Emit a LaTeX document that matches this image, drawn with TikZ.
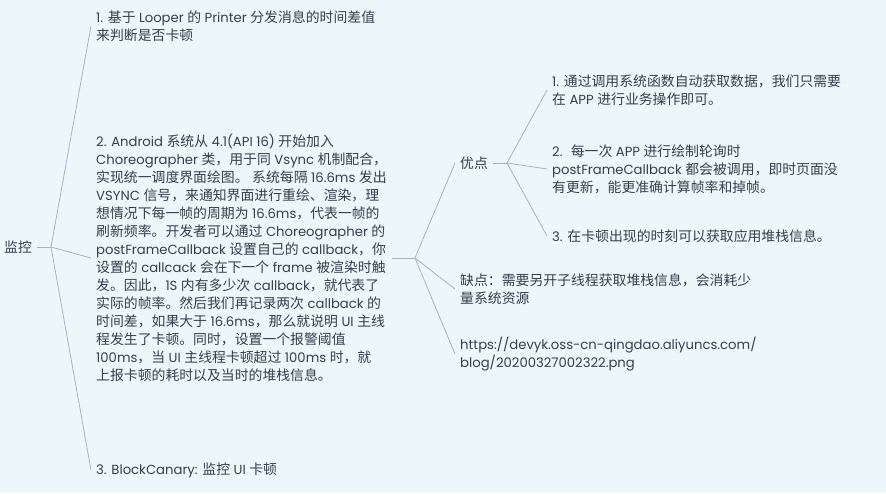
\documentclass[tikz,border=0pt]{standalone}
\usepackage{fontspec}
\setmainfont{Poppins}
\newfontfamily\latinfont{Poppins}
\newfontfamily\cjkfont[Scale=1.05]{Noto Sans CJK SC}
\usepackage{tikz}
\usetikzlibrary{positioning}

% switch to the CJK font for Chinese characters and punctuation
\XeTeXinterchartokenstate=1
\newXeTeXintercharclass\cjkclass
\newcount\cjkcnt
\newcommand{\setcjkrange}[2]{%
  \cjkcnt=#1
  \loop\ifnum\cjkcnt<#2
    \XeTeXcharclass\cjkcnt=\cjkclass
    \advance\cjkcnt by 1
  \repeat}
\setcjkrange{"3000}{"3040}
\setcjkrange{"4E00}{"A000}
\setcjkrange{"FF00}{"FFF0}
\XeTeXinterchartoks 0 \cjkclass = {\cjkfont}
\XeTeXinterchartoks 4095 \cjkclass = {\cjkfont}
\XeTeXinterchartoks \cjkclass 0 = {\latinfont}
\XeTeXinterchartoks \cjkclass 4095 = {\latinfont}

\definecolor{paper}{HTML}{EDF6FA}
\definecolor{edge}{HTML}{A9B4C5}
\definecolor{ink}{HTML}{363F4E}

\tikzset{
  topic/.style={anchor=west, align=left, inner xsep=5pt, inner ysep=2pt,
    text=ink, font={\fontsize{13.2}{18}\selectfont}},
  link/.style={draw=edge, line width=0.8pt}
}

\begin{document}
\begin{tikzpicture}[x=1pt, y=-1pt]
    % Background and size
    \fill[paper] (0,0) rectangle (886,493);
    \useasboundingbox (0,0) rectangle (886,493);

    % Root and its junction
    \node[topic] (root) at (-1,247) {监控};
    \coordinate (j0) at (51,247);

    % First level
    \node[topic] (b1) at (91,26) {1. 基于 Looper 的 Printer 分发消息的时间差值\\来判断是否卡顿};
    \node[topic] (b2) at (91,258) {2. Android 系统从 4.1(API 16) 开始加入\\
      Choreographer 类，用于同 Vsync 机制配合，\\
      实现统一调度界面绘图。 系统每隔 16.6ms 发出\\
      VSYNC 信号，来通知界面进行重绘、渲染，理\\
      想情况下每一帧的周期为 16.6ms，代表一帧的\\
      刷新频率。开发者可以通过 Choreographer 的\\
      postFrameCallback 设置自己的 callback，你\\
      设置的 callcack 会在下一个 frame 被渲染时触\\
      发。因此，1S 内有多少次 callback，就代表了\\
      实际的帧率。然后我们再记录两次 callback 的\\
      时间差，如果大于 16.6ms，那么就说明 UI 主线\\
      程发生了卡顿。同时，设置一个报警阈值\\
      100ms，当 UI 主线程卡顿超过 100ms 时，就\\
      上报卡顿的耗时以及当时的堆栈信息。};
    \node[topic] (b3) at (91,470) {3. BlockCanary: 监控 UI 卡顿};

    \draw[link] (root.east) -- (j0);
    \foreach \n in {b1,b2,b3}
      \draw[link] (j0) -- (\n.west);

    % Second level
    \coordinate (j2) at (415,258);
    \node[topic] (pro) at (455,163) {优点};
    \node[topic] (con) at (455,289) {缺点：需要另开子线程获取堆栈信息，会消耗少\\量系统资源};
    \node[topic] (url) at (455,354) {https://devyk.oss-cn-qingdao.aliyuncs.com/\\blog/20200327002322.png};

    \draw[link] (b2.east) -- (j2);
    \foreach \n in {pro,con,url}
      \draw[link] (j2) -- (\n.west);

    % Third level
    \coordinate (j3) at (507,163);
    \node[topic] (p1) at (547,90) {1. 通过调用系统函数自动获取数据，我们只需要\\在 APP 进行业务操作即可。};
    \node[topic] (p2) at (547,169) {2.~ 每一次 APP 进行绘制轮询时\\postFrameCallback 都会被调用，即时页面没\\有更新，能更准确计算帧率和掉帧。};
    \node[topic] (p3) at (547,236) {3. 在卡顿出现的时刻可以获取应用堆栈信息。};

    \draw[link] (pro.east) -- (j3);
    \foreach \n in {p1,p2,p3}
      \draw[link] (j3) -- (\n.west);

\end{tikzpicture}
\end{document}
